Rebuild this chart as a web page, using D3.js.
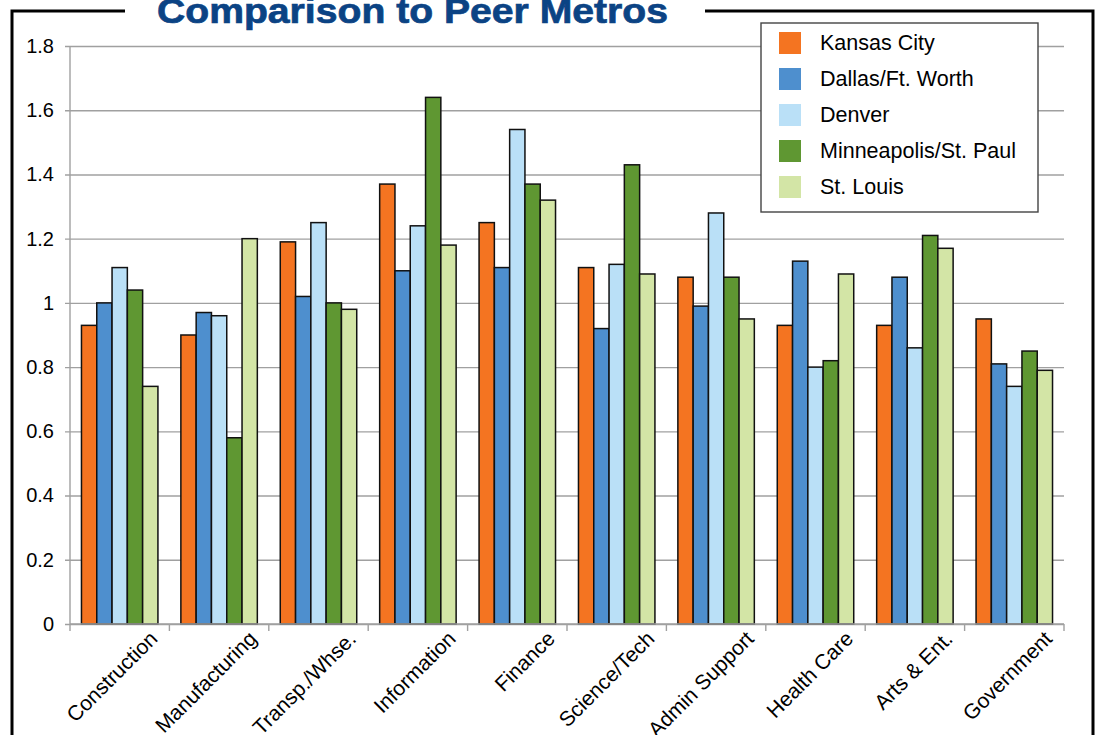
<!DOCTYPE html>
<html>
<head>
<meta charset="utf-8">
<script src="https://cdn.jsdelivr.net/npm/d3@7"></script>
<style>
  body { margin: 0; background: #fff; }
  svg { display: block; font-family: Arial, "Liberation Sans", sans-serif; }
</style>
</head>
<body>
<div id="chart"></div>
<script>
// industry categories along the x axis
var categories = ["Construction", "Manufacturing", "Transp./Whse.", "Information", "Finance",
  "Science/Tech", "Admin Support", "Health Care", "Arts & Ent.", "Government"];

var seriesNames = ["Kansas City", "Dallas/Ft. Worth", "Denver", "Minneapolis/St. Paul", "St. Louis"];
var seriesColors = ["#F47421", "#4E8FCE", "#BAE0F7", "#5F9732", "#D3E5A6"];

// location quotients, one array per metro
var kansasCity = [0.93, 0.90, 1.19, 1.37, 1.25, 1.11, 1.08, 0.93, 0.93, 0.95];
var dallas     = [1.00, 0.97, 1.02, 1.10, 1.11, 0.92, 0.99, 1.13, 1.08, 0.81];
var denver     = [1.11, 0.96, 1.25, 1.24, 1.54, 1.12, 1.28, 0.80, 0.86, 0.74];
var minneapolis= [1.04, 0.58, 1.00, 1.64, 1.37, 1.43, 1.08, 0.82, 1.21, 0.85];
var stLouis    = [0.74, 1.20, 0.98, 1.18, 1.32, 1.09, 0.95, 1.09, 1.17, 0.79];

var yTicks = [0, 0.2, 0.4, 0.6, 0.8, 1, 1.2, 1.4, 1.6, 1.8];

var allSeries = [kansasCity, dallas, denver, minneapolis, stLouis];

var W = 1099, H = 735;
var plot = { left: 70, right: 1064, top: 46, bottom: 624 };

var svg = d3.select("#chart").append("svg")
  .attr("width", W).attr("height", H);

// outer frame, with a gap on top for the title
svg.append("path")
  .attr("d", "M125,11 H12 V" + (H + 10) + " M705,11 H1093 V" + (H + 10))
  .attr("fill", "none").attr("stroke", "#000").attr("stroke-width", 3);

svg.append("text")
  .attr("x", 157).attr("y", 23)
  .attr("textLength", 511).attr("lengthAdjust", "spacingAndGlyphs")
  .style("font-family", "'Liberation Sans Narrow', 'Arial Narrow', Arial, sans-serif")
  .style("font-weight", "bold").style("font-size", "35px")
  .attr("fill", "#0B4384").attr("stroke", "#0B4384").attr("stroke-width", 0.7)
  .text("Comparison to Peer Metros");

var x0 = d3.scaleBand().domain(categories)
  .range([plot.left, plot.right])
  .paddingInner(1.5 / 6.5).paddingOuter(0.75 / 6.5);

var x1 = d3.scaleBand().domain(d3.range(seriesNames.length))
  .range([0, x0.bandwidth()]);

var y = d3.scaleLinear().domain([0, 1.8]).range([plot.bottom, plot.top]);

// gridlines + y ticks
var yAxis = d3.axisLeft(y).tickValues(yTicks)
  .tickSize(-(plot.right - plot.left)).tickPadding(12)
  .tickFormat(function(d) { return d3.format("~g")(d); });

var gy = svg.append("g").attr("transform", "translate(" + plot.left + ",0)").call(yAxis);
gy.select(".domain").remove();
gy.selectAll(".tick line").attr("stroke", "#a0a0a0").attr("stroke-width", 1.4).attr("x1", -5);
gy.selectAll(".tick text").attr("fill", "#000").style("font-size", "20px").attr("x", -16);

svg.append("line")
  .attr("x1", plot.left).attr("x2", plot.left)
  .attr("y1", plot.top).attr("y2", plot.bottom)
  .attr("stroke", "#a0a0a0").attr("stroke-width", 1.4);

// bars
var groups = svg.append("g").selectAll("g")
  .data(categories)
  .join("g")
  .attr("transform", function(d) { return "translate(" + x0(d) + ",0)"; });

groups.selectAll("rect")
  .data(function(d, i) { return allSeries.map(function(s, k) { return { k: k, v: s[i] }; }); })
  .join("rect")
  .attr("x", function(d) { return x1(d.k); })
  .attr("y", function(d) { return y(d.v); })
  .attr("width", x1.bandwidth())
  .attr("height", function(d) { return y(0) - y(d.v); })
  .attr("fill", function(d) { return seriesColors[d.k]; })
  .attr("stroke", "#111").attr("stroke-width", 1.5);

// x axis with ticks at category boundaries
svg.append("line")
  .attr("x1", plot.left).attr("x2", plot.right)
  .attr("y1", plot.bottom).attr("y2", plot.bottom)
  .attr("stroke", "#a0a0a0").attr("stroke-width", 1.4);

var step = x0.step();
svg.append("g").selectAll("line")
  .data(d3.range(categories.length + 1))
  .join("line")
  .attr("x1", function(i) { return plot.left + i * step; })
  .attr("x2", function(i) { return plot.left + i * step; })
  .attr("y1", plot.bottom).attr("y2", plot.bottom + 7)
  .attr("stroke", "#a0a0a0").attr("stroke-width", 1.4);

svg.append("g").selectAll("text")
  .data(categories)
  .join("text")
  .attr("transform", function(d) {
    var cx = x0(d) + x0.bandwidth() / 2 + 39;
    return "translate(" + cx + "," + (plot.bottom + 16) + ") rotate(-45)";
  })
  .attr("text-anchor", "end")
  .style("font-size", "21px")
  .text(function(d) { return d; });

// legend
var legend = svg.append("g").attr("transform", "translate(761,23)");
legend.append("rect")
  .attr("width", 277).attr("height", 189)
  .attr("fill", "#fff").attr("stroke", "#444").attr("stroke-width", 1.4);

var items = legend.selectAll("g.item")
  .data(seriesNames)
  .join("g").attr("class", "item")
  .attr("transform", function(d, i) { return "translate(18," + (9 + i * 36) + ")"; });

items.append("rect")
  .attr("width", 22).attr("height", 22)
  .attr("fill", function(d, i) { return seriesColors[i]; });

items.append("text")
  .attr("x", 41).attr("y", 18)
  .style("font-size", "21.5px")
  .text(function(d) { return d; });
</script>
</body>
</html>
